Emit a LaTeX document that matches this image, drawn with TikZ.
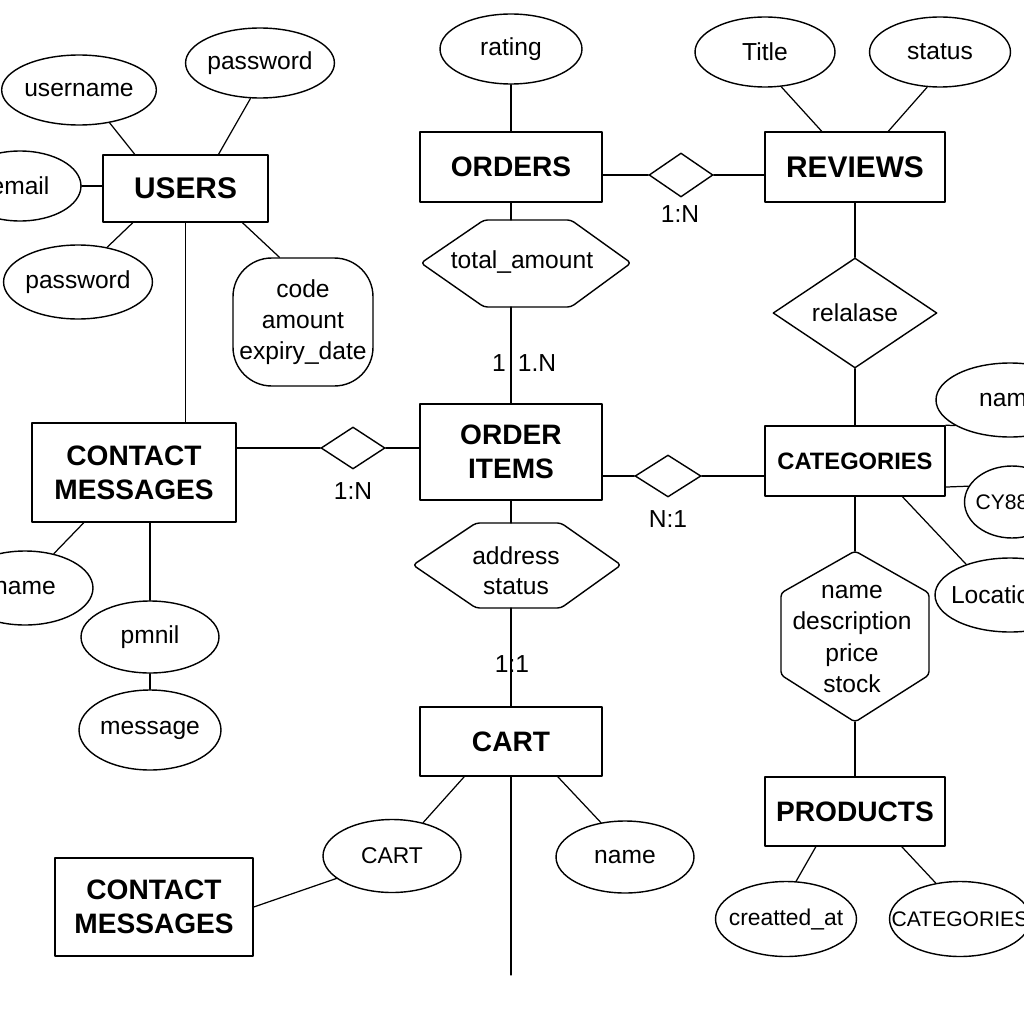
\documentclass[tikz,border=0pt]{standalone}
\usepackage{fontspec}
\setmainfont{Liberation Sans}
\usetikzlibrary{shapes.geometric}

\tikzset{
  entity/.style={draw,line width=0.9pt,rectangle,align=center,inner sep=2pt,
    font=\bfseries\fontsize{16}{19.5}\selectfont},
  attr/.style={draw,line width=0.8pt,ellipse,inner sep=0pt,align=center,
    font=\fontsize{14}{17}\selectfont},
  rel/.style={draw,line width=0.8pt,diamond,inner sep=0pt,
    font=\fontsize{14}{17}\selectfont},
  card/.style={inner sep=1pt,font=\fontsize{14}{17}\selectfont},
  hextext/.style={inner sep=0pt,align=center,font=\fontsize{14}{18}\selectfont},
  hexline/.style={line width=0.8pt,rounded corners=2pt},
  link/.style={line width=0.7pt},
}

\begin{document}
\begin{tikzpicture}[x=0.02cm,y=-0.02cm,line cap=round,line join=round]
  \useasboundingbox (0,0) rectangle (1024,1024);

  % entities
  \node[entity,minimum width=3.3cm,minimum height=1.34cm,font=\bfseries\fontsize{17}{20}\selectfont] (users) at (185.5,188.5) {USERS};
  \node[entity,minimum width=3.64cm,minimum height=1.4cm] (orders) at (511,167) {ORDERS};
  \node[entity,minimum width=3.6cm,minimum height=1.4cm,font=\bfseries\fontsize{17}{20}\selectfont] (reviews) at (855,167) {REVIEWS};
  \node[entity,minimum width=4.08cm,minimum height=1.98cm] (contact1) at (134,472.5) {CONTACT\\MESSAGES};
  \node[entity,minimum width=3.64cm,minimum height=1.92cm] (orderitems) at (511,452) {ORDER\\ITEMS};
  \node[entity,minimum width=3.6cm,minimum height=1.4cm,font=\bfseries\fontsize{13.5}{16}\selectfont] (categories) at (855,461) {CATEGORIES};
  \node[entity,minimum width=3.64cm,minimum height=1.38cm] (cart) at (511,741.5) {CART};
  \node[entity,minimum width=3.6cm,minimum height=1.38cm] (products) at (855,811.5) {PRODUCTS};
  \node[entity,minimum width=3.96cm,minimum height=1.96cm] (contact2) at (154,907) {CONTACT\\MESSAGES};

  % attributes
  \node[attr,minimum width=2.92cm,minimum height=1.4cm] (username) at (79,90) {username};
  \node[attr,minimum width=2.82cm,minimum height=1.4cm] (passtop) at (260,63) {password};
  \node[attr,minimum width=2.44cm,minimum height=1.4cm] (email) at (20,186) {email};
  \node[attr,minimum width=2.84cm,minimum height=1.48cm] (passleft) at (78,282) {password};
  \node[draw,line width=0.8pt,rounded corners=22pt,inner sep=0pt,align=center,
    minimum width=2.8cm,minimum height=2.56cm,font=\fontsize{14}{17.5}\selectfont] (coupon) at (303,322) {code\\amount\\expiry\_date};
  \node[attr,minimum width=2.72cm,minimum height=1.48cm] (nameleft) at (25,588) {name};
  \node[attr,minimum width=2.76cm,minimum height=1.44cm] (pmnil) at (150,637) {pmnil};
  \node[attr,minimum width=2.84cm,minimum height=1.6cm] (message) at (150,730) {message};
  \node[attr,minimum width=2.84cm,minimum height=1.4cm] (rating) at (511,49) {rating};
  \node[attr,minimum width=2.8cm,minimum height=1.4cm] (title) at (765,52) {Title};
  \node[attr,minimum width=2.82cm,minimum height=1.4cm] (status) at (940,52) {status};
  \node[attr,minimum width=2.96cm,minimum height=1.48cm] (catname) at (1010,400) {name};
  \node[attr,minimum width=1.9cm,minimum height=1.44cm,inner xsep=-6pt,font=\fontsize{12}{14}\selectfont] (cyattr) at (1012,502) {CY88\hspace{0.4cm}};
  \node[attr,minimum width=3cm,minimum height=1.48cm,inner xsep=-8pt] (location) at (1010,595) {Location\hspace{0.5cm}};
  \node[attr,minimum width=2.76cm,minimum height=1.46cm,font=\fontsize{13}{15}\selectfont] (cartattr) at (392,856) {CART};
  \node[attr,minimum width=2.76cm,minimum height=1.44cm] (nameb) at (625,857) {name};
  \node[attr,minimum width=2.82cm,minimum height=1.5cm,inner xsep=-6pt,font=\fontsize{13}{15}\selectfont] (createdat) at (786,919) {creatted\_at};
  \node[attr,minimum width=2.82cm,minimum height=1.5cm,inner xsep=-12pt,font=\fontsize{12}{14}\selectfont] (catattr) at (960,919) {CATEGORIES};

  % relationships
  \node[rel,minimum width=1.28cm,minimum height=0.88cm] (ordrev) at (681,175) {};
  \node[rel,minimum width=1.28cm,minimum height=0.84cm] (conitem) at (353,448) {};
  \node[rel,minimum width=1.32cm,minimum height=0.84cm] (itemcat) at (668,476) {};
  \node[rel,minimum width=3.28cm,minimum height=2.2cm] (relalase) at (855,313) {relalase};

  % hexagon attributes
  \draw[hexline] (421,263) -- (484,220) -- (571,220) -- (631,263)
    -- (571,307) -- (484,307) -- cycle;
  \coordinate (total-n) at (511,220);
  \coordinate (total-s) at (511,307);
  \node[hextext] (total) at (522,262) {total\_amount};

  \draw[hexline] (413,565) -- (476,523) -- (561,523) -- (621,565)
    -- (561,608) -- (476,608) -- cycle;
  \coordinate (addr-n) at (511,523);
  \coordinate (addr-s) at (511,608);
  \node[hextext,font=\fontsize{14}{17}\selectfont] (addr) at (516,571) {address\\status};

  \draw[hexline] (855,551) -- (929,593) -- (929,675) -- (855,722)
    -- (781,675) -- (781,593) -- cycle;
  \coordinate (prod-n) at (855,551);
  \coordinate (prod-s) at (855,722);
  \node[hextext] (prodattr) at (852,639) {name\\description\\price\\stock};

  % cardinalities
  \node[card] (c1) at (680,214) {1:N};
  \node[card] (c2) at (353,491) {1:N};
  \node[card] (c3) at (668,519) {N:1};
  \node[card] (c4a) at (499,363) {1};
  \node[card] (c4b) at (537,363) {1.N};
  \node[card] (c5) at (512,664) {1:1};

  % links
  \draw[link] (username.-47) -- (users.146);
  \draw[link] (passtop.-105) -- (users.46);
  \draw[link] (email.east) -- (email.east -| users.west);
  \draw[link] (passleft.50) -- (users.213);
  \draw[link] (coupon.110) -- (users.-31);
  \draw[link] (users.south) -- (users.south |- contact1.north);

  \draw[link] (rating) -- (orders);
  \draw[link] (title.-65) -- (reviews.133);
  \draw[link] (status.-110) -- (reviews.47);
  \draw[link] (orders.east |- ordrev) -- (ordrev.west);
  \draw[link] (ordrev.east) -- (reviews.west |- ordrev);
  \draw[link] (reviews.south) -- (relalase.north);
  \draw[link] (relalase.south) -- (categories.north);

  \draw[link] (orders.south) -- (total-n);
  \draw[link] (total-s) -- (orderitems.north);
  \draw[link] (contact1.east |- conitem) -- (conitem.west);
  \draw[link] (conitem.east) -- (orderitems.west |- conitem);
  \draw[link] (orderitems.east |- itemcat) -- (itemcat.west);
  \draw[link] (itemcat.east) -- (categories.west |- itemcat);
  \draw[link] (orderitems.south) -- (addr-n);
  \draw[link] (addr-s) -- (cart.north);

  \draw[link] (categories.south) -- (prod-n);
  \draw[link] (prod-s) -- (products.north);
  \draw[link] (categories.north east) -- (catname.205);
  \draw[link] (categories.-16) -- (cyattr.160);
  \draw[link] (categories.-37) -- (location.145);

  \draw[link] (contact1.-135) -- (nameleft.50);
  \draw[link] (contact1.south -| pmnil) -- (pmnil.north);
  \draw[link] (pmnil.south) -- (message.north);

  \coordinate (cart-end) at (511,975);
  \draw[link] (cart.south) -- (cart-end);
  \draw[link] (cart.-143) -- (cartattr.47);
  \draw[link] (cartattr.202) -- (contact2.east);
  \draw[link] (cart.-37) -- (nameb.125);
  \draw[link] (products.-138) -- (createdat.75);
  \draw[link] (products.-37) -- (catattr.124);
\end{tikzpicture}
\end{document}
